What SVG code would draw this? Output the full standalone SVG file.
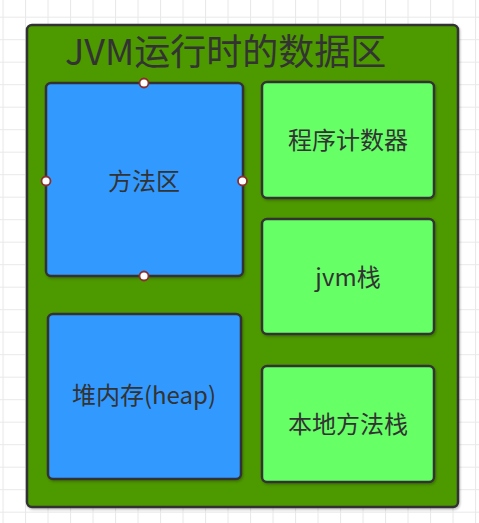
<svg xmlns="http://www.w3.org/2000/svg" width="479" height="523" viewBox="0 0 479 523">
<defs>
<pattern id="grid" x="2.5" y="16.7" width="22.5" height="22.5" patternUnits="userSpaceOnUse">
<path d="M0.5 0 V22.5 M0 0.5 H22.5" fill="none" stroke="#e9e9e9" stroke-width="1.2"/>
</pattern>
<filter id="sh" x="-5%" y="-5%" width="110%" height="110%">
<feDropShadow dx="1" dy="1.5" stdDeviation="1" flood-color="#000" flood-opacity="0.25"/>
</filter>
<style>
.box{stroke:#333;stroke-width:2.5;filter:url(#sh)}
.blue{fill:#3399ff}
.green{fill:#66ff66}
.lbl{font-family:"Noto Sans CJK SC","Noto Sans",sans-serif;font-size:24px;fill:#333;text-anchor:middle}
.h{fill:#fff;stroke:#8b2e2e;stroke-width:1.8}
</style>
</defs>
<rect width="479" height="523" fill="#fff"/>
<rect width="479" height="523" fill="url(#grid)"/>
<g id="container">
<rect class="box" x="27" y="25" width="431" height="482" rx="5" fill="#4d9900"/>
<text x="65" y="65" font-family="'Noto Sans CJK SC','Noto Sans',sans-serif" font-size="36" fill="#333">JVM运行时的数据区</text>
</g>
<g id="method-area">
<rect class="box blue" x="46" y="83" width="197" height="193" rx="5"/>
<text class="lbl" x="144" y="190">方法区</text>
<circle class="h" cx="144" cy="83" r="4.5"/>
<circle class="h" cx="46" cy="181" r="4.5"/>
<circle class="h" cx="242.5" cy="181" r="4.5"/>
<circle class="h" cx="144" cy="276" r="4.5"/>
</g>
<g id="heap">
<rect class="box blue" x="48" y="314" width="193" height="165" rx="5"/>
<text class="lbl" x="144" y="404">堆内存(heap)</text>
</g>
<g id="pc-register">
<rect class="box green" x="262" y="82" width="172" height="116" rx="5"/>
<text class="lbl" x="348" y="149">程序计数器</text>
</g>
<g id="jvm-stack">
<rect class="box green" x="262" y="219" width="172" height="115" rx="5"/>
<text class="lbl" x="348" y="286">jvm栈</text>
</g>
<g id="native-stack">
<rect class="box green" x="262" y="366" width="172" height="116" rx="5"/>
<text class="lbl" x="348" y="433">本地方法栈</text>
</g>
<g id="connectors"/>
</svg>
